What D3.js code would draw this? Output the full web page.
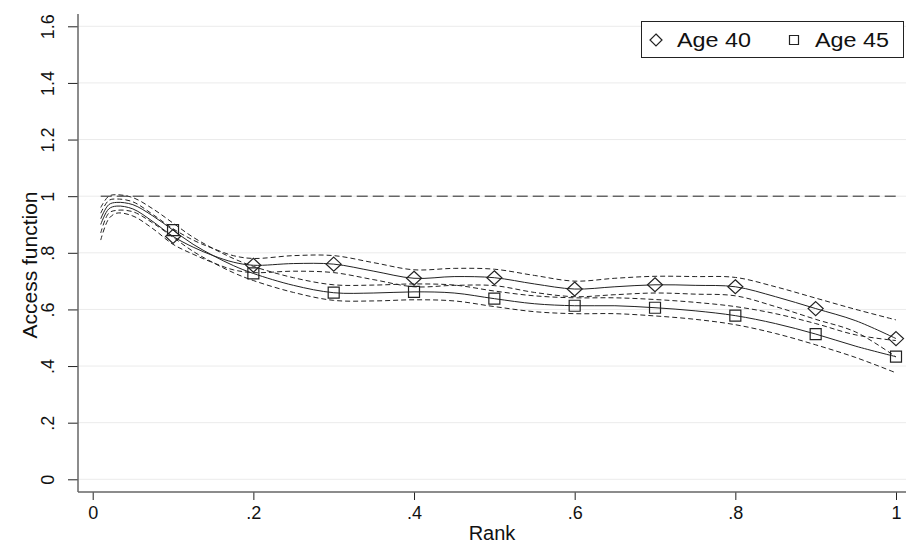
<!DOCTYPE html>
<html>
<head>
<meta charset="utf-8">
<script src="https://cdn.jsdelivr.net/npm/d3@7"></script>
<style>
  body { margin: 0; background: #fff; }
  text { font-family: "Liberation Sans", Arial, Helvetica, sans-serif; }
</style>
</head>
<body>
<div id="container"></div>
<script>
/* CONSTANTS AND GLOBALS */
const width = 906,
  height = 546,
  margin = { top: 26, bottom: 67, left: 93, right: 10 }

/* DATA */
const rank = [0.01, 0.02, 0.03, 0.05, 0.075, 0.1, 0.125, 0.15, 0.175, 0.2, 0.25, 0.3, 0.35,
  0.4, 0.45, 0.5, 0.55, 0.6, 0.65, 0.7, 0.75, 0.8, 0.85, 0.9, 0.95, 1.0]

const age40 = [0.90, 0.955, 0.965, 0.955, 0.91, 0.858, 0.82, 0.79, 0.767, 0.756, 0.762, 0.76, 0.735,
  0.71, 0.716, 0.712, 0.69, 0.672, 0.68, 0.687, 0.685, 0.68, 0.645, 0.603, 0.56, 0.497]
const age40Hi = [0.94, 0.985, 0.99, 0.98, 0.935, 0.885, 0.845, 0.815, 0.79, 0.78, 0.79, 0.79, 0.765,
  0.74, 0.745, 0.742, 0.72, 0.70, 0.71, 0.717, 0.716, 0.713, 0.68, 0.64, 0.60, 0.563]
const age40Lo = [0.845, 0.92, 0.94, 0.93, 0.885, 0.83, 0.795, 0.765, 0.74, 0.73, 0.735, 0.73, 0.705,
  0.68, 0.685, 0.684, 0.66, 0.645, 0.652, 0.658, 0.654, 0.648, 0.61, 0.565, 0.52, 0.432]

const age45 = [0.92, 0.97, 0.978, 0.97, 0.93, 0.88, 0.83, 0.79, 0.755, 0.727, 0.685, 0.659, 0.658,
  0.662, 0.658, 0.638, 0.62, 0.613, 0.613, 0.606, 0.595, 0.578, 0.55, 0.513, 0.47, 0.433]
const age45Hi = [0.96, 1.0, 1.005, 0.995, 0.955, 0.905, 0.855, 0.815, 0.78, 0.752, 0.712, 0.687, 0.686,
  0.69, 0.686, 0.665, 0.648, 0.641, 0.641, 0.635, 0.625, 0.61, 0.585, 0.55, 0.51, 0.49]
const age45Lo = [0.87, 0.94, 0.95, 0.945, 0.905, 0.855, 0.805, 0.765, 0.73, 0.702, 0.66, 0.632, 0.63,
  0.634, 0.63, 0.61, 0.592, 0.585, 0.585, 0.577, 0.565, 0.546, 0.515, 0.475, 0.43, 0.376]

const markerRanks = [0.1, 0.2, 0.3, 0.4, 0.5, 0.6, 0.7, 0.8, 0.9, 1.0]
const xTicks = [0, 0.2, 0.4, 0.6, 0.8, 1]
const yTicks = [0, 0.2, 0.4, 0.6, 0.8, 1, 1.2, 1.4, 1.6]
const refLine = 1

const fmt = d => d === 0 ? "0" : d3.format("~g")(d).replace(/^0\./, ".")

const svg = d3.select("#container")
  .append("svg")
  .attr("width", width)
  .attr("height", height)

//scales
const xScale = d3.scaleLinear()
  .domain([0, 1])
  .range([92.7, 896])

const yScale = d3.scaleLinear()
  .domain([0, 1.6])
  .range([479.3, 26.3])

const axisX = 78, axisY = 492

//gridlines
svg.append("g")
  .attr("class", "grid")
  .selectAll("line")
  .data(yTicks)
  .join("line")
  .attr("x1", axisX)
  .attr("x2", width)
  .attr("y1", d => yScale(d))
  .attr("y2", d => yScale(d))
  .attr("stroke", "#ebebeb")
  .attr("stroke-width", 1)

//x-axis
const xAxis = d3.axisBottom(xScale)
  .tickValues(xTicks)
  .tickFormat(fmt)
  .tickSize(8)
  .tickPadding(6)

const gx = svg.append("g")
  .attr("class", "x-axis")
  .attr("transform", `translate(0, ${axisY})`)
  .call(xAxis)
gx.select(".domain").remove()
gx.selectAll("line").attr("stroke", "#222")
gx.selectAll("text").attr("font-size", 18).attr("fill", "#111")

svg.append("line")
  .attr("x1", axisX).attr("x2", width)
  .attr("y1", axisY).attr("y2", axisY)
  .attr("stroke", "#666").attr("stroke-width", 1.5)

svg.append("text")
  .attr("class", "xAxisLabel")
  .attr("x", (axisX + width) / 2)
  .attr("y", 540)
  .attr("text-anchor", "middle")
  .attr("font-size", 20)
  .attr("fill", "#111")
  .text("Rank")

//y-axis
const yAxis = d3.axisLeft(yScale)
  .tickValues(yTicks)
  .tickFormat(fmt)
  .tickSize(10)
  .tickPadding(0)

const gy = svg.append("g")
  .attr("class", "y-axis")
  .attr("transform", `translate(${axisX}, 0)`)
  .call(yAxis)
gy.select(".domain").remove()
gy.selectAll("line").attr("stroke", "#222")
gy.selectAll("text")
  .attr("font-size", 18)
  .attr("fill", "#111")
  .attr("x", 0)
  .attr("y", 0)
  .attr("dy", 0)
  .attr("text-anchor", "middle")
  .attr("transform", "translate(-24, 0) rotate(-90)")

svg.append("line")
  .attr("x1", axisX).attr("x2", axisX)
  .attr("y1", 14).attr("y2", axisY)
  .attr("stroke", "#666").attr("stroke-width", 1.5)

svg.append("text")
  .attr("class", "yAxisLabel")
  .attr("transform", `translate(36.5, 265) rotate(-90)`)
  .attr("text-anchor", "middle")
  .attr("font-size", 21)
  .attr("fill", "#111")
  .text("Access function")

//reference line
svg.append("line")
  .attr("x1", xScale(0.01)).attr("x2", xScale(1))
  .attr("y1", yScale(refLine)).attr("y2", yScale(refLine))
  .attr("stroke", "#222")
  .attr("stroke-width", 1)
  .attr("stroke-dasharray", "11,5")

//curves
const line = (vals) => d3.line()
  .x((d, i) => xScale(rank[i]))
  .y(d => yScale(d))
  .curve(d3.curveCatmullRom.alpha(0.5))(vals)

const series = [
  { vals: age40Hi, dash: "5,3" },
  { vals: age40Lo, dash: "5,3" },
  { vals: age45Hi, dash: "5,3" },
  { vals: age45Lo, dash: "5,3" },
  { vals: age40, dash: null },
  { vals: age45, dash: null }
]

svg.selectAll(".series")
  .data(series)
  .join("path")
  .attr("class", "series")
  .attr("d", d => line(d.vals))
  .attr("fill", "none")
  .attr("stroke", "#222")
  .attr("stroke-width", 1)
  .attr("stroke-dasharray", d => d.dash)

//markers
const markerData = (vals) => markerRanks.map(r => {
  const i = rank.findIndex(x => Math.abs(x - r) < 1e-9)
  return { x: r, y: vals[i] }
})

const diamond = "M0,-7L7.5,0L0,7L-7.5,0Z"
const square = "M-5.5,-5.5H5.5V5.5H-5.5Z"

svg.selectAll(".m40")
  .data(markerData(age40))
  .join("path")
  .attr("class", "m40")
  .attr("d", diamond)
  .attr("transform", d => `translate(${xScale(d.x)}, ${yScale(d.y)})`)
  .attr("fill", "none")
  .attr("stroke", "#222")
  .attr("stroke-width", 1.2)

svg.selectAll(".m45")
  .data(markerData(age45))
  .join("path")
  .attr("class", "m45")
  .attr("d", square)
  .attr("transform", d => `translate(${xScale(d.x)}, ${yScale(d.y)})`)
  .attr("fill", "none")
  .attr("stroke", "#222")
  .attr("stroke-width", 1.2)

//legend
const legend = svg.append("g").attr("class", "legend")
legend.append("rect")
  .attr("x", 641.5).attr("y", 21.5)
  .attr("width", 262).attr("height", 36)
  .attr("fill", "#fff")
  .attr("stroke", "#222")

legend.append("path")
  .attr("d", "M0,-6L6,0L0,6L-6,0Z")
  .attr("transform", "translate(656, 40)")
  .attr("fill", "none").attr("stroke", "#222").attr("stroke-width", 1.2)
legend.append("path")
  .attr("d", "M-4.5,-4.5H4.5V4.5H-4.5Z")
  .attr("transform", "translate(794, 40)")
  .attr("fill", "none").attr("stroke", "#222").attr("stroke-width", 1.2)

legend.selectAll(".ltext")
  .data([{ x: 677, t: "Age 40" }, { x: 815, t: "Age 45" }])
  .join("text")
  .attr("class", "ltext")
  .attr("x", d => d.x)
  .attr("y", 47)
  .attr("font-size", 20)
  .attr("textLength", 74)
  .attr("lengthAdjust", "spacingAndGlyphs")
  .attr("fill", "#111")
  .text(d => d.t)
</script>
</body>
</html>
